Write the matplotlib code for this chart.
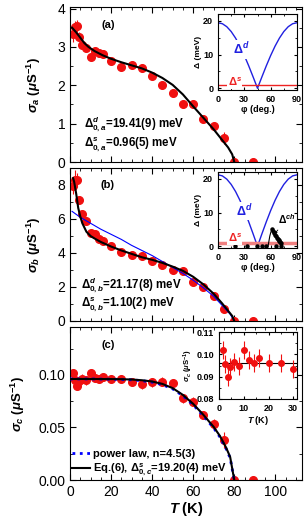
import numpy as np
import matplotlib
matplotlib.use('Agg')
import matplotlib.pyplot as plt
from matplotlib.ticker import MultipleLocator

plt.rcParams['font.family'] = ['Liberation Sans', 'DejaVu Sans']
plt.rcParams['mathtext.fontset'] = 'custom'
plt.rcParams['mathtext.rm'] = 'Liberation Sans:bold'
plt.rcParams['mathtext.it'] = 'Liberation Sans:italic:bold'
plt.rcParams['mathtext.bf'] = 'Liberation Sans:bold'

# temperatures (K) of the muSR points
T = [1.5, 2.5, 3.5, 4.5, 6, 8, 10, 12, 14, 16, 20, 25, 30, 35, 40, 45, 50, 55, 60, 65, 70, 75, 80, 89]

sig_a = [3.34, 3.53, 3.55, 3.27, 3.06, 2.97, 2.74, 2.89, 2.84, 2.81, 2.62, 2.48, 2.52, 2.45,
         2.23, 2.00, 1.81, 1.50, 1.50, 1.12, 0.94, 0.63, 0.0, 0.0]
err_a = [0.2, 0.15, 0.15, 0.12, 0.1, 0.1, 0.08, 0.1, 0.08, 0.08, 0.08, 0.06, 0.06, 0.06,
         0.06, 0.06, 0.06, 0.06, 0.06, 0.06, 0.1, 0.15, 0.03, 0.03]

sig_b = [7.96, 8.29, 8.29, 7.12, 6.27, 5.88, 5.16, 5.10, 4.82, 4.71, 4.43, 4.04, 3.88, 3.82,
         3.55, 3.29, 3.00, 2.94, 2.31, 2.02, 1.47, 0.69, 0.0, 0.0]
err_b = [0.5, 0.6, 0.4, 0.25, 0.2, 0.15, 0.12, 0.12, 0.1, 0.1, 0.1, 0.08, 0.08, 0.08,
         0.08, 0.08, 0.08, 0.08, 0.08, 0.08, 0.1, 0.15, 0.05, 0.05]

sig_c = [0.1018, 0.0956, 0.0899, 0.0944, 0.0966, 0.0948, 0.1018, 0.0973, 0.0960, 0.0982, 0.0963,
         0.0963, 0.0936, 0.0911, 0.0930, 0.0937, 0.0925, 0.0778, 0.0746, 0.0619, 0.0533, 0.038, 0.0, 0.0]
err_c = [0.004, 0.004, 0.004, 0.004, 0.004, 0.004, 0.004, 0.004, 0.004, 0.004, 0.004,
         0.004, 0.004, 0.004, 0.004, 0.004, 0.004, 0.004, 0.004, 0.004, 0.005, 0.008, 0.001, 0.001]

# fit curves
fit_a_T = [1, 3, 5, 7, 9, 12, 16, 20, 25, 30, 35, 40, 45, 50, 55, 60, 65, 70, 74, 77, 79, 80]
fit_a = [3.50, 3.38, 3.24, 3.10, 3.00, 2.89, 2.78, 2.69, 2.60, 2.52, 2.44, 2.33, 2.19, 2.01,
         1.76, 1.45, 1.15, 0.85, 0.58, 0.38, 0.20, 0.0]

fit_b_T = [1.5, 2, 3, 4, 5, 6, 8, 10, 12, 15, 20, 25, 30, 35, 40, 45, 50, 55, 60, 65, 70, 74, 77, 79, 80]
fit_b = [8.4, 8.2, 7.5, 6.65, 6.15, 5.75, 5.25, 5.0, 4.85, 4.65, 4.38, 4.15, 3.95, 3.75, 3.6,
         3.42, 3.2, 2.95, 2.6, 2.15, 1.6, 1.05, 0.6, 0.3, 0.0]
pow_b_T = [1, 5, 10, 15, 20, 25, 30, 35, 40, 45, 50, 55, 60, 65, 70, 75, 78, 80]
pow_b = [6.45, 6.1, 5.75, 5.4, 5.1, 4.8, 4.45, 4.15, 3.85, 3.5, 3.15, 2.8, 2.4, 1.95, 1.45, 0.8, 0.4, 0.0]

fit_c_T = [0, 10, 20, 25, 30, 35, 40, 45, 50, 55, 60, 65, 70, 73, 76, 78, 80]
fit_c = [0.0962, 0.0962, 0.0961, 0.0960, 0.0957, 0.0950, 0.0938, 0.0915, 0.0875, 0.0810,
         0.0725, 0.0620, 0.0505, 0.0420, 0.0310, 0.0220, 0.0]
pow_c = [0.0962, 0.0962, 0.0960, 0.0958, 0.0954, 0.0946, 0.0932, 0.0908, 0.0868, 0.0802,
         0.0716, 0.0610, 0.0495, 0.0410, 0.0300, 0.0210, 0.0]

# gap angular dependence (insets)
phi = [0, 5, 10, 15, 20, 25, 30, 35, 40, 42, 44, 45, 46, 48, 50, 55, 60, 65, 70, 75, 80, 85, 90]
gap_d_a = [19.41, 19.12, 18.24, 16.81, 14.87, 12.48, 9.71, 6.64, 3.37, 2.03, 0.68, 0.0, 0.68,
           2.03, 3.37, 6.64, 9.71, 12.48, 14.87, 16.81, 18.24, 19.12, 19.41]
gap_d_b = [21.17, 20.85, 19.89, 18.33, 16.22, 13.61, 10.59, 7.24, 3.68, 2.21, 0.74, 0.0, 0.74,
           2.21, 3.68, 7.24, 10.59, 13.61, 16.22, 18.33, 19.89, 20.85, 21.17]
gap_s_a = 0.96
gap_s_b = 1.10
ch_line_phi = [57, 58, 59, 60, 61, 62]
ch_line = [0.0, 1.5, 3.0, 4.0, 4.8, 5.2]
ch_dot_phi = [62, 63, 64, 65, 66, 67, 68, 69, 70, 71, 72]
ch_dot = [5.2, 4.5, 3.9, 3.4, 3.0, 2.6, 2.2, 1.9, 1.6, 1.3, 1.0]
ch_zero_phi = [19, 33, 44, 50, 55, 66, 72]

# inset (c): low temperature sigma_c
Tc_low = T[:13]
sc_low = sig_c[:13]
ec_low = [0.004, 0.004, 0.004, 0.004, 0.004, 0.004, 0.004, 0.004, 0.004, 0.004, 0.004, 0.004, 0.004]
sc_mean = 0.0961

W, H = 305, 522
fig = plt.figure(figsize=(W / 100, H / 100), dpi=100)


def px_axes(l, t, r, b):
    return fig.add_axes([l / W, 1 - b / H, (r - l) / W, (b - t) / H])


def style(ax, fs=10):
    ax.tick_params(which='both', direction='in', top=True, right=True, labelsize=fs)
    ax.tick_params(which='major', length=4, width=0.8)
    ax.tick_params(which='minor', length=2, width=0.6)
    for s in ax.spines.values():
        s.set_linewidth(0.8)


red = '#f01010'
ax_a = px_axes(70, 7, 302, 162)
ax_b = px_axes(70, 168, 302, 321)
ax_c = px_axes(70, 327, 302, 480)

panels = [(ax_a, sig_a, err_a, (0, 4.04), 1, 0.5),
          (ax_b, sig_b, err_b, (0, 9), 2, 1),
          (ax_c, sig_c, err_c, (0, 0.1457), 0.05, 0.025)]
for ax, s, e, yl, maj, mnr in panels:
    ax.errorbar(T, s, yerr=e, fmt='o', color=red, ms=5.5, mec=red, elinewidth=0.8,
                capsize=0, zorder=2)
    ax.set_xlim(0, 113)
    ax.set_ylim(*yl)
    ax.xaxis.set_major_locator(MultipleLocator(20))
    ax.xaxis.set_minor_locator(MultipleLocator(5))
    ax.yaxis.set_major_locator(MultipleLocator(maj))
    ax.yaxis.set_minor_locator(MultipleLocator(mnr))
    style(ax)

ax_a.tick_params(labelbottom=False)
ax_b.tick_params(labelbottom=False)
ax_c.yaxis.set_major_formatter(matplotlib.ticker.FormatStrFormatter('%.2f'))

ax_a.plot(fit_a_T, fit_a, color='black', lw=1.5, zorder=3)
ax_b.plot(pow_b_T, pow_b, color='blue', lw=0.8, zorder=3)
ax_b.plot(fit_b_T, fit_b, color='black', lw=1.5, zorder=4)
ax_c.plot(fit_c_T, pow_c, color='blue', lw=2, ls=':', zorder=3, label='power law, n=4.5(3)')
ax_c.plot(fit_c_T, fit_c, color='black', lw=1.5, zorder=4,
          label=r'Eq.(6), $\Delta^{s}_{0,c}$=19.20(4) meV')

ylabels = [r'$\sigma_a$ ($\mu$S$^{-1}$)', r'$\sigma_b$ ($\mu$S$^{-1}$)', r'$\sigma_c$ ($\mu$S$^{-1}$)']
label_x = [-0.115, -0.115, -0.185]
for ax, lab, lx in zip([ax_a, ax_b, ax_c], ylabels, label_x):
    ax.set_ylabel(lab, fontsize=9.5, fontweight='bold')
    ax.yaxis.set_label_coords(lx, 0.5)
ax_c.set_xlabel(r'$T$ (K)', fontsize=10.5, fontweight='bold', labelpad=1)

ax_a.text(18.5, 3.56, '(a)', fontsize=8, fontweight='bold', ha='center', va='center')
ax_b.text(18.5, 8.0, '(b)', fontsize=8, fontweight='bold', ha='center', va='center')
ax_c.text(18.5, 0.1286, '(c)', fontsize=8, fontweight='bold', ha='center', va='center')

ann = dict(fontsize=8.3, fontweight='bold', va='center')
ax_a.text(7, 0.98, r'$\Delta^{d}_{0,a}$=19.41(9) meV', **ann)
ax_a.text(7, 0.45, r'$\Delta^{s}_{0,a}$=0.96(5) meV', **ann)
ax_b.text(5.5, 2.1, r'$\Delta^{d}_{0,b}$=21.17(8) meV', **ann)
ax_b.text(5.5, 0.95, r'$\Delta^{s}_{0,b}$=1.10(2) meV', **ann)

ax_c.legend(loc='lower left', frameon=False, handlelength=1.6,
            handletextpad=0.3, borderpad=0.1, borderaxespad=0.1, labelspacing=0.25,
            prop={'weight': 'bold', 'size': 8})

# insets
ins_a = px_axes(218, 14, 297, 90)
ins_b = px_axes(218, 172, 297, 248)
ins_c = px_axes(219, 332, 297, 399)

for ins, gd, gs, lw_s, col_s in [(ins_a, gap_d_a, gap_s_a, 1.0, '#ee2222'),
                                  (ins_b, gap_d_b, gap_s_b, 2.5, '#f08080')]:
    ins.plot(phi, gd, color='#2020e0', lw=1.0)
    ins.axhline(gs, color=col_s, lw=lw_s)
    ins.set_xlim(0, 90)
    ins.set_ylim(-0.5, 22)
    ins.xaxis.set_major_locator(MultipleLocator(30))
    ins.xaxis.set_minor_locator(MultipleLocator(15))
    ins.yaxis.set_major_locator(MultipleLocator(10))
    ins.yaxis.set_minor_locator(MultipleLocator(5))
    style(ins, fs=6.5)
    ins.tick_params(which='major', length=2.5)
    ins.tick_params(which='minor', length=1.5)
    for lab in ins.get_xticklabels() + ins.get_yticklabels():
        lab.set_fontweight('bold')
    ins.set_xlabel(u'\u03c6 (deg.)', fontsize=6.5, fontweight='bold', labelpad=1)
    ins.set_ylabel(u'\u0394 (meV)', fontsize=6, fontweight='bold', labelpad=1)

ins_a.text(26, 11.5, r'$\Delta^{d}$', color='#2020e0', fontsize=9, ha='center', va='center',
           bbox=dict(facecolor='white', edgecolor='none', pad=0.5))
ins_a.text(19, 1.9, r'$\Delta^{s}$', color='#ee2222', fontsize=8, ha='center', va='center',
           bbox=dict(facecolor='white', edgecolor='none', pad=0.3))
ins_b.text(30, 10.5, r'$\Delta^{d}$', color='#2020e0', fontsize=9, ha='center', va='center',
           bbox=dict(facecolor='white', edgecolor='none', pad=0.5))
ins_b.text(19, 2.4, r'$\Delta^{s}$', color='#ee2222', fontsize=8, ha='center', va='center',
           bbox=dict(facecolor='white', edgecolor='none', pad=0.3))
ins_b.plot(ch_line_phi, ch_line, color='black', lw=0.8)
ins_b.plot(ch_dot_phi, ch_dot, 'o', color='black', ms=2.2)
ins_b.plot(ch_zero_phi, [0] * len(ch_zero_phi), 'o', color='black', ms=2.2, clip_on=False)
ins_b.annotate(r'$\Delta^{ch}$', xy=(64, 3.6), xytext=(79, 8), fontsize=7.5, ha='center',
               va='center', arrowprops=dict(arrowstyle='-|>', color='black', lw=0.6,
                                            mutation_scale=4, shrinkA=1, shrinkB=0))

ins_c.errorbar(Tc_low, sc_low, yerr=ec_low, fmt='o', color=red, ms=4, elinewidth=0.8, capsize=0)
ins_c.axhline(sc_mean, color='black', lw=0.8, zorder=0)
ins_c.set_xlim(0, 31.5)
ins_c.set_ylim(0.08, 0.11)
ins_c.xaxis.set_major_locator(MultipleLocator(10))
ins_c.xaxis.set_minor_locator(MultipleLocator(5))
ins_c.yaxis.set_major_locator(MultipleLocator(0.01))
ins_c.yaxis.set_minor_locator(MultipleLocator(0.005))
ins_c.yaxis.set_major_formatter(matplotlib.ticker.FormatStrFormatter('%.2f'))
style(ins_c, fs=6.5)
ins_c.tick_params(which='major', length=2.5)
ins_c.tick_params(which='minor', length=1.5)
for lab in ins_c.get_xticklabels() + ins_c.get_yticklabels():
    lab.set_fontweight('bold')
ins_c.set_xlabel(r'$T$ (K)', fontsize=6.5, fontweight='bold', labelpad=1)
ins_c.set_ylabel(r'$\sigma_c$ ($\mu$S$^{-1}$)', fontsize=5.5, fontweight='bold', labelpad=1)

fig.savefig('out.png', dpi=100)
